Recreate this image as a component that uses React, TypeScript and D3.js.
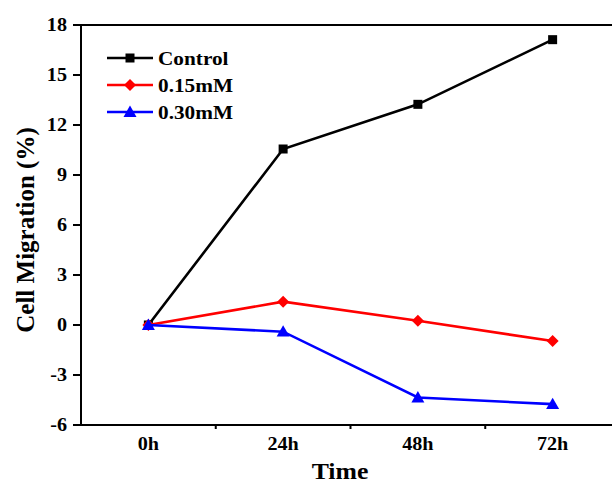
import React from "react";
import * as d3 from "d3";

const categories = ["0h", "24h", "48h", "72h"];
const controlValues = [0, 10.56, 13.24, 17.12];
const mM015Values = [0, 1.4, 0.25, -0.96];
const mM030Values = [0, -0.4, -4.35, -4.75];
const yTicks = [-6, -3, 0, 3, 6, 9, 12, 15, 18];
const seriesNames = ["Control", "0.15mM", "0.30mM"];
const seriesColors = ["#000000", "#ff0000", "#0000ff"];
const seriesShapes = ["square", "diamond", "triangle"];

const W = 612;
const H = 483;
const left = 81;
const right = 620;
const top = 25;
const bottom = 425;
const font = "'Liberation Serif', 'Times New Roman', serif";
const SX = 1.12;

function Txt({
  x,
  y,
  size,
  anchor,
  children,
  dy,
}: {
  x: number;
  y: number;
  size: number;
  anchor?: string;
  dy?: string;
  children: React.ReactNode;
}) {
  return (
    <text
      transform={`translate(${x},${y}) scale(${SX},1)`}
      dy={dy}
      textAnchor={anchor || "start"}
      fontFamily={font}
      fontWeight="bold"
      fontSize={size}
    >
      {children}
    </text>
  );
}

function Marker({ shape, x, y, color }: { shape: string; x: number; y: number; color: string }) {
  if (shape === "square") {
    return <rect x={x - 4.5} y={y - 4.5} width={9} height={9} fill={color} />;
  }
  if (shape === "diamond") {
    const s = 6;
    return <path d={`M${x},${y - s}L${x + s},${y}L${x},${y + s}L${x - s},${y}Z`} fill={color} />;
  }
  const s = 6.5;
  return <path d={`M${x},${y - s}L${x + s},${y + s * 0.75}L${x - s},${y + s * 0.75}Z`} fill={color} />;
}

export default function App() {
  const x = d3.scaleBand<string>().domain(categories).range([left, right]).padding(0);
  const y = d3.scaleLinear().domain([-6, 18]).range([bottom, top]);
  const cx = (c: string) => (x(c) as number) + x.bandwidth() / 2;
  const seriesData = [controlValues, mM015Values, mM030Values];
  const line = d3
    .line<number>()
    .x((_, i) => cx(categories[i]))
    .y((d) => y(d));
  const boundaries = categories.map((c) => x(c) as number).concat([right]).slice(1);

  return (
    <svg width={W} height={H} style={{ position: "absolute", left: 0, top: 0, background: "#fff" }}>
      <rect x={0} y={0} width={W} height={H} fill="#fff" />
      {/* axes */}
      <line x1={left} y1={top} x2={W} y2={top} stroke="#000" strokeWidth={2} />
      <line x1={left} y1={top} x2={left} y2={bottom} stroke="#000" strokeWidth={2} />
      <line x1={left - 1} y1={bottom} x2={W} y2={bottom} stroke="#000" strokeWidth={2} />
      {yTicks.map((t) => (
        <g key={t}>
          <line x1={left - 8} x2={left} y1={y(t)} y2={y(t)} stroke="#000" strokeWidth={2} />
          <Txt x={left - 14} y={y(t)} dy="0.35em" anchor="end" size={18}>
            {t}
          </Txt>
        </g>
      ))}
      {boundaries.map((b, i) => (
        <line key={i} x1={b} x2={b} y1={bottom} y2={bottom + 4} stroke="#000" strokeWidth={2} />
      ))}
      {categories.map((c) => (
        <Txt key={c} x={cx(c)} y={450} anchor="middle" size={18}>
          {c}
        </Txt>
      ))}
      <Txt x={340} y={479} anchor="middle" size={23}>
        Time
      </Txt>
      <text
        transform={`translate(34,230) rotate(-90)`}
        textAnchor="middle"
        fontFamily={font}
        fontWeight="bold"
        fontSize={25}
      >
        Cell Migration (%)
      </text>
      {/* series */}
      {seriesData.map((vals, si) => (
        <g key={si}>
          <path d={line(vals) || ""} fill="none" stroke={seriesColors[si]} strokeWidth={2.6} />
          {vals.map((v, i) => (
            <Marker key={i} shape={seriesShapes[si]} x={cx(categories[i])} y={y(v)} color={seriesColors[si]} />
          ))}
        </g>
      ))}
      {/* legend */}
      {seriesNames.map((n, i) => {
        const ly = 58 + i * 27;
        return (
          <g key={n}>
            <line x1={107} x2={153} y1={ly} y2={ly} stroke={seriesColors[i]} strokeWidth={2.6} />
            <Marker shape={seriesShapes[i]} x={130} y={ly} color={seriesColors[i]} />
            <Txt x={158} y={ly} dy="0.35em" size={19}>
              {n}
            </Txt>
          </g>
        );
      })}
    </svg>
  );
}
